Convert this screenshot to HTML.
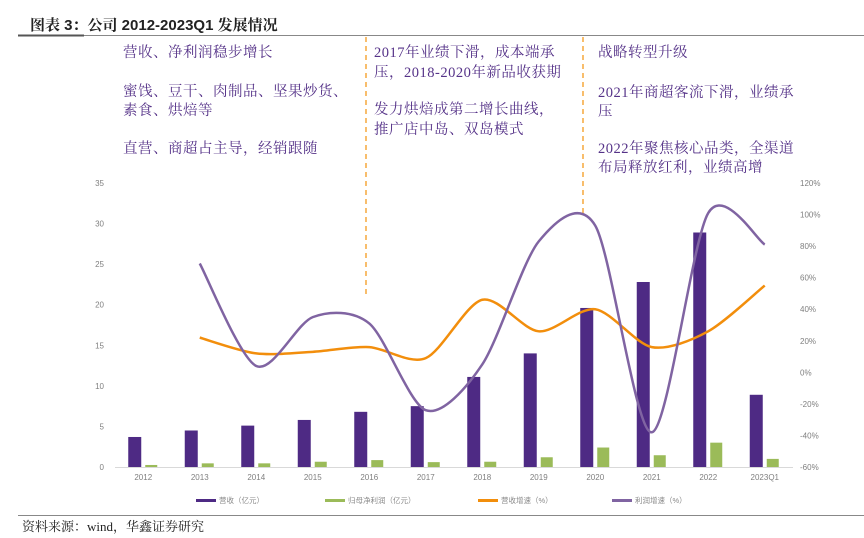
<!DOCTYPE html>
<html><head><meta charset="utf-8"><style>
body{margin:0;background:#fff;width:864px;height:538px;overflow:hidden;font-family:"Liberation Sans","Noto Sans CJK SC",sans-serif}
svg{display:block}
.ann{font-family:"Liberation Serif","Noto Serif CJK SC",serif;font-size:14.5px;fill:#553288;letter-spacing:0.5px}
.tick{font-size:8px;fill:#7f7f7f}
.leg{font-size:7.5px;fill:#8a8a8a}
</style></head><body>
<svg width="864" height="538">
<text x="30" y="30" font-size="15" font-weight="bold" fill="#222" font-family="'Liberation Sans','Noto Serif CJK SC',serif">图表 3：公司 2012-2023Q1 发展情况</text>
<line x1="18" y1="35.5" x2="864" y2="35.5" stroke="#888" stroke-width="1"/>
<line x1="18" y1="35.5" x2="84" y2="35.5" stroke="#555" stroke-width="2"/>
<line x1="366" y1="37" x2="366" y2="298" stroke="#f39a1e" stroke-width="1.3" stroke-dasharray="5,4"/>
<line x1="583" y1="37" x2="583" y2="216" stroke="#f39a1e" stroke-width="1.3" stroke-dasharray="5,4"/>
<g>
<text class="ann" x="123" y="57">营收、净利润稳步增长</text>
<text class="ann" x="123" y="96">蜜饯、豆干、肉制品、坚果炒货、</text>
<text class="ann" x="123" y="115">素食、烘焙等</text>
<text class="ann" x="123" y="153">直营、商超占主导，经销跟随</text>
</g>
<g>
<text class="ann" x="374" y="57">2017年业绩下滑，成本端承</text>
<text class="ann" x="374" y="77">压，2018-2020年新品收获期</text>
<text class="ann" x="374" y="114">发力烘焙成第二增长曲线，</text>
<text class="ann" x="374" y="134">推广店中岛、双岛模式</text>
</g>
<g>
<text class="ann" x="598" y="57">战略转型升级</text>
<text class="ann" x="598" y="97">2021年商超客流下滑，业绩承</text>
<text class="ann" x="598" y="116">压</text>
<text class="ann" x="598" y="153">2022年聚焦核心品类，全渠道</text>
<text class="ann" x="598" y="172">布局释放红利，业绩高增</text>
</g>
<g id="plot"></g>
<line x1="18" y1="515.5" x2="864" y2="515.5" stroke="#888" stroke-width="1"/>
<text x="22" y="531" font-size="13" fill="#222" font-family="'Liberation Serif','Noto Serif CJK SC',serif">资料来源：wind，华鑫证券研究</text>
</svg>
<script>
const categories=["2012","2013","2014","2015","2016","2017","2018","2019","2020","2021","2022","2023Q1"];
const revenue=[3.7,4.5,5.1,5.8,6.8,7.5,11.1,14.0,19.6,22.8,28.9,8.9];
const profit=[0.25,0.45,0.45,0.65,0.85,0.6,0.65,1.2,2.4,1.45,3.0,1.0];
const revGrowth=[null,22,12,13,16,9,46,26,40,16,26,55];
const profGrowth=[null,69,4,35,31,-24,5,83,93,-38,101,81];
const leftTicks=[0,5,10,15,20,25,30,35];
const rightTicks=[-60,-40,-20,0,20,40,60,80,100,120];

const NS="http://www.w3.org/2000/svg";
const g=document.getElementById('plot');
function el(t,a){const e=document.createElementNS(NS,t);for(const k in a)e.setAttribute(k,a[k]);g.appendChild(e);return e;}
const x0=115,band=56.5,yB=467,yT=183;
const xc=i=>x0+band*(i+0.5);
const yL=v=>yB-(v/35)*(yB-yT);
const yR=v=>yB-((v+60)/180)*(yB-yT);

leftTicks.forEach(v=>{const t=el('text',{x:104,y:yL(v)+3,'text-anchor':'end',class:'tick'});t.textContent=v;

});
rightTicks.forEach(v=>{const t=el('text',{x:800,y:yR(v)+3,class:'tick'});t.textContent=v+'%';

});
const ax=el('line',{x1:x0,x2:x0+band*12,y1:yB+0.5,y2:yB+0.5,stroke:'#d9d9d9'});


categories.forEach((c,i)=>{const t=el('text',{x:xc(i),y:480,'text-anchor':'middle',class:'tick'});t.textContent=c;

});
revenue.forEach((v,i)=>{const r=el('rect',{x:xc(i)-15,y:yL(v),width:13,height:yB-yL(v),fill:'#4e2a84'});

});
profit.forEach((v,i)=>{const r=el('rect',{x:xc(i)+2,y:yL(v),width:12,height:yB-yL(v),fill:'#9bbb59'});

});
function smooth(arr){const p=[];arr.forEach((v,i)=>{if(v!==null)p.push([xc(i),yR(v)]);});
let d='M'+p[0][0]+','+p[0][1];const k=7;
for(let i=0;i<p.length-1;i++){const a=p[i-1]||p[i],b=p[i],c=p[i+1],e=p[i+2]||c;
d+=` C${b[0]+(c[0]-a[0])/k},${b[1]+(c[1]-a[1])/k} ${c[0]-(e[0]-b[0])/k},${c[1]-(e[1]-b[1])/k} ${c[0]},${c[1]}`;}
return d;}
const l1=el('path',{d:smooth(revGrowth),fill:'none',stroke:'#f28e0c','stroke-width':2.5});


const l2=el('path',{d:smooth(profGrowth),fill:'none',stroke:'#8064a2','stroke-width':2.5});


const legend=[["#4e2a84","营收（亿元）",196],["#9bbb59","归母净利润（亿元）",325],["#f28e0c","营收增速（%）",478],["#8064a2","利润增速（%）",612]];
legend.forEach(l=>{const s=el('rect',{x:l[2],y:499,width:20,height:3,fill:l[0]});


const t=el('text',{x:l[2]+23,y:503,class:'leg'});t.textContent=l[1];

});
</script>
</body></html>
